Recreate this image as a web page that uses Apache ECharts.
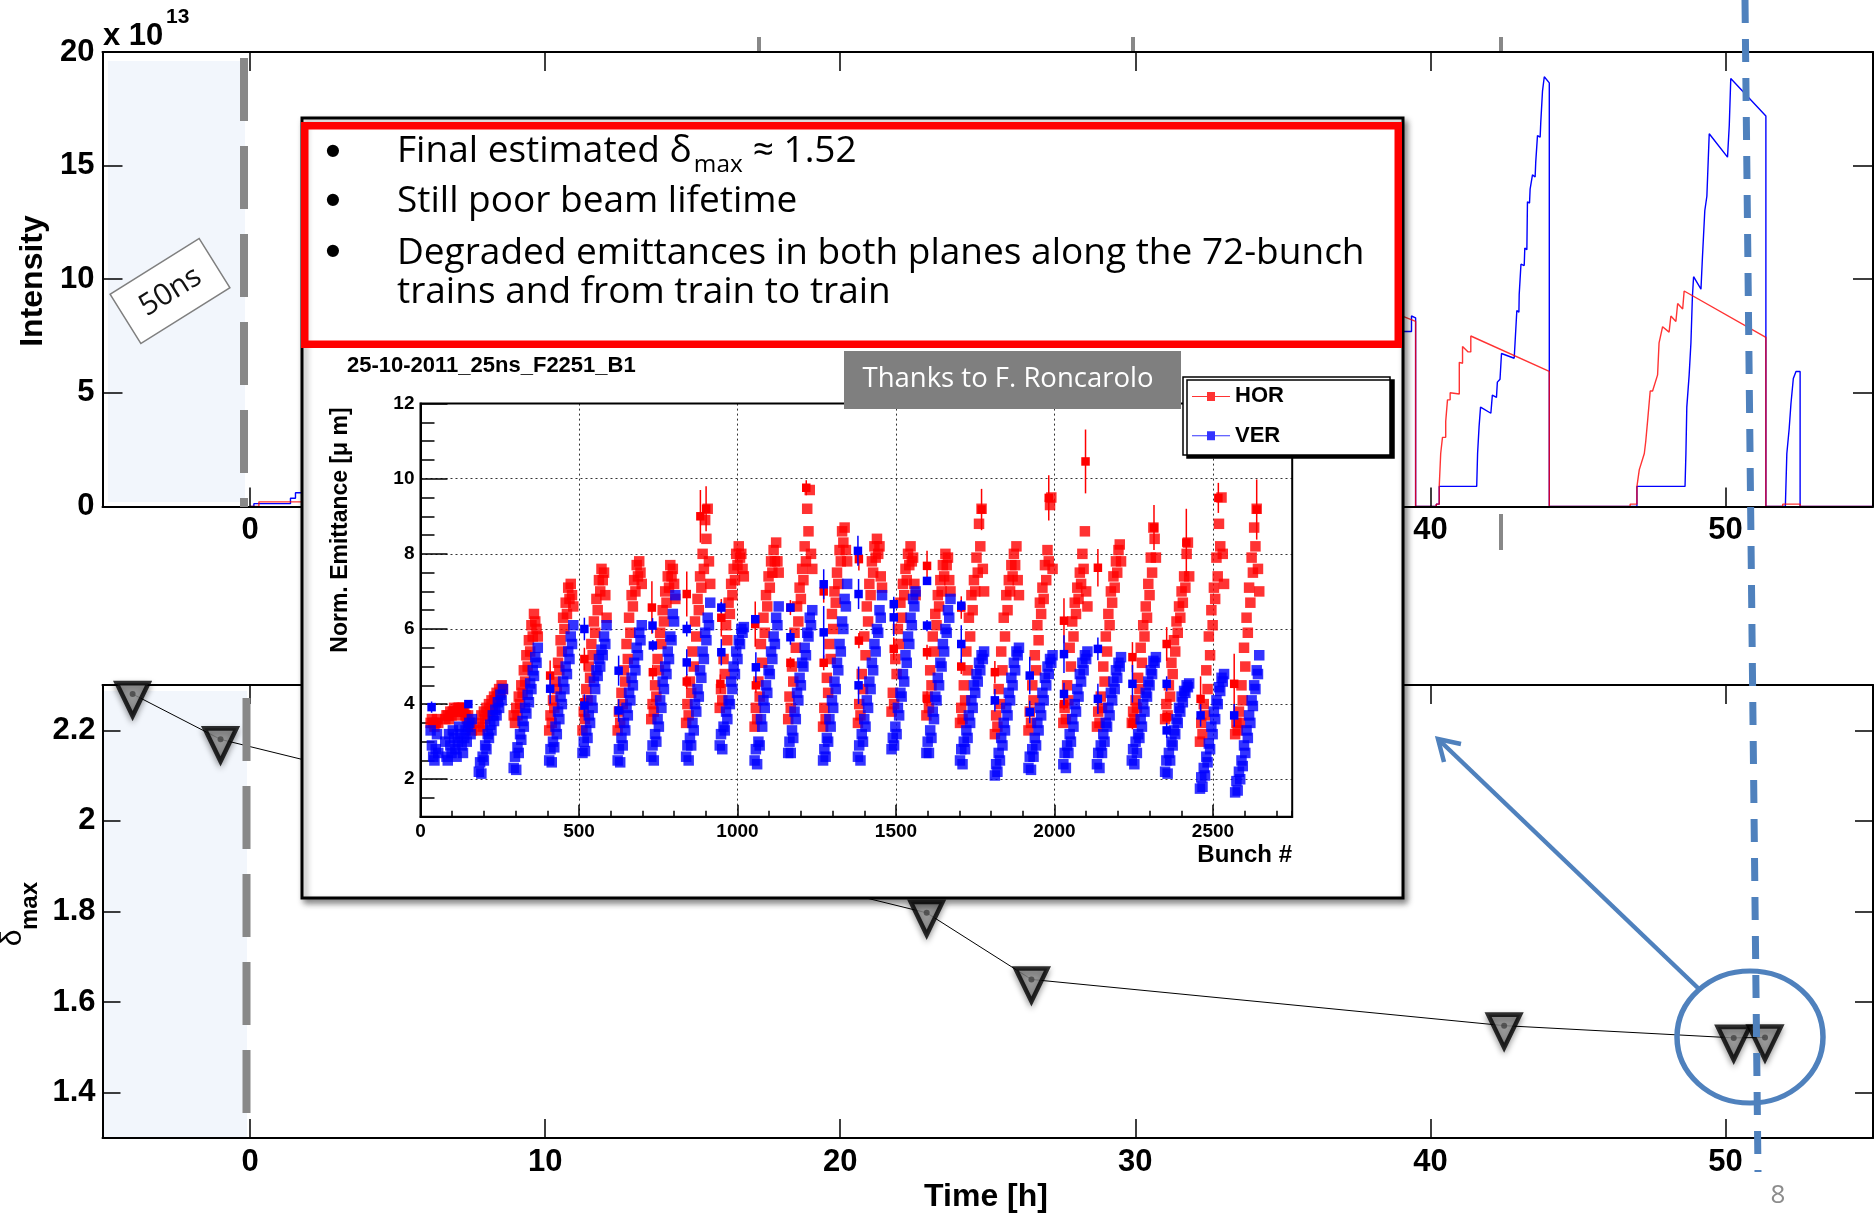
<!DOCTYPE html>
<html>
<head>
<meta charset="utf-8">
<script src="https://cdn.jsdelivr.net/npm/echarts@6/dist/echarts.min.js"></script>
<style>
  html, body { margin: 0; padding: 0; background: #fff; }
  #chart { width: 1874px; height: 1218px; }
</style>
</head>
<body>
<div id="chart"></div>
<script>
// ---------------------------------------------------------------------------
// Data
// ---------------------------------------------------------------------------

// Beam intensity versus time [h], in units of 1e13 protons (step-wise fills)
const verIntensity = [
  [0, 0], [0.13, 0], [0.13, 0.12], [1.37, 0.12], [1.37, 0.36], [1.54, 0.36], [1.54, 0.6], [2.3, 0.6],
  [38.9, 7.7], [39.36, 7.7], [39.36, 8.38], [39.5, 8.3], [39.5, 0],
  [40.2, 0], [40.2, 0.1], [40.3, 0.1], [40.3, 0.88], [41.57, 0.88], [41.6, 2.33], [41.65, 3.5], [41.7, 4.37],
  [42.05, 4.1], [42.1, 4.9], [42.24, 4.8], [42.27, 5.47], [42.36, 5.6], [42.41, 6.73], [42.84, 6.52],
  [42.87, 7.2], [42.93, 8.62], [43.0, 8.55], [43.01, 9.32], [43.06, 9.28], [43.07, 10.66], [43.18, 10.6],
  [43.2, 11.37], [43.27, 11.3], [43.29, 13.41], [43.36, 13.35], [43.38, 13.96], [43.44, 13.9], [43.46, 14.59],
  [43.55, 14.5], [43.57, 15.14], [43.61, 15.1], [43.63, 16.32], [43.72, 16.25], [43.74, 16.87], [43.78, 16.85],
  [43.8, 18.28], [43.84, 18.25], [43.86, 18.91], [44.03, 18.64], [44.03, 0],
  [47.0, 0], [47.0, 0.88], [48.63, 0.88], [48.66, 2.33], [48.69, 4.37], [48.77, 5.79], [48.83, 7.2],
  [48.88, 9.24], [48.92, 10.11], [49.17, 9.56], [49.22, 10.97], [49.3, 13.02], [49.37, 13.65], [49.45, 16.4],
  [50.07, 15.37], [50.13, 16.79], [50.18, 18.83], [51.37, 17.18], [51.37, 0],
  [52.03, 0], [52.08, 2.33], [52.16, 3.43], [52.22, 4.53], [52.3, 5.63], [52.39, 5.94], [52.53, 5.94],
  [52.53, 0], [55, 0]
];
const horIntensity = [
  [0, 0], [0.3, 0], [0.3, 0.2], [2.3, 0.2],
  [38.9, 8.45], [39.5, 8.14], [39.5, 0],
  [40.2, 0], [40.2, 0.1], [40.3, 0.1], [40.3, 0.88], [40.35, 0.88], [40.35, 2.33], [40.41, 2.33], [40.41, 3.04],
  [40.52, 3.04], [40.52, 3.74], [40.58, 3.74], [40.58, 4.69], [40.67, 4.69], [40.67, 5.0], [40.98, 4.95],
  [40.98, 6.34], [41.09, 6.3], [41.09, 7.04], [41.28, 6.8], [41.37, 6.8], [41.37, 7.5], [44.03, 5.94], [44.03, 0],
  [46.77, 0], [46.77, 0.1], [47.0, 0.1], [47.0, 0.88], [47.08, 1.62], [47.25, 2.33], [47.3, 2.88], [47.36, 3.74],
  [47.45, 5.08], [47.53, 5.08], [47.7, 5.79], [47.75, 7.2], [47.87, 7.91], [48.09, 7.67], [48.15, 8.38],
  [48.32, 8.14], [48.38, 8.93], [48.55, 8.69], [48.6, 9.48], [51.37, 7.44], [51.37, 0],
  [51.94, 0], [51.94, 0.1], [52.53, 0.1], [52.53, 0], [55, 0]
];

// δmax estimates versus time [h]
const deltaTime  = [-3.98, -1.0, 22.93, 26.48, 42.5, 50.28, 51.34];
const deltaValue = [2.28, 2.18, 1.797, 1.65, 1.548, 1.521, 1.522];

// Tick values
const timeTicks  = [0, 10, 20, 30, 40, 50];
const deltaTicks = [1.4, 1.6, 1.8, 2.0, 2.2];
const emitTicks  = [2, 4, 6, 8, 10, 12];
const emitGrid   = [2, 4, 6, 8, 10];

// Normalised emittance per bunch (fill 2251, beam 1): first slot of each train,
// then the values of every BUNCH_STEP-th bunch along the train
const BUNCH_STEP = 4;
const trainStarts = [32, 78, 184, 294, 406, 511, 622, 728, 838, 944, 1054, 1160, 1270,
                     1380, 1486, 1596, 1702, 1812, 1918, 2028, 2134, 2244, 2349, 2459, 2570];
const horTrains = [
  [3.5, 3.6, 3.5, 3.4, 3.5, 3.6, 3.5],
  [3.6, 3.7, 3.7, 3.6, 3.8, 3.7, 3.8, 3.9, 3.8, 3.7, 3.9, 3.9, 3.8, 3.9, 3.9, 3.8, 3.7, 3.6, 3.7, 3.5, 3.4, 3.3],
  [3.5, 3.3, 3.7, 3.4, 3.8, 3.6, 3.9, 3.7, 4.0, 3.8, 4.1, 3.9, 4.2, 4.1, 4.3, 4.2, 4.4, 4.3, 4.5, 4.4],
  [3.7, 3.5, 3.9, 3.7, 4.2, 4.0, 4.5, 4.3, 4.9, 4.6, 5.3, 5.0, 5.7, 5.4, 6.1, 5.8, 6.4, 6.2, 6.0, 5.8],
  [3.3, 3.7, 3.5, 4.1, 3.9, 4.6, 4.4, 5.1, 4.9, 5.7, 5.4, 6.3, 6.0, 6.7, 6.4, 7.1, 6.8, 7.2, 6.9, 6.6],
  [3.3, 3.8, 3.6, 4.4, 4.1, 5.0, 4.7, 5.6, 5.3, 6.2, 5.9, 6.8, 6.5, 7.3, 7.0, 7.6, 7.3, 7.5, 6.9, 6.3],
  [3.3, 3.8, 3.5, 4.3, 4.0, 4.9, 4.6, 5.6, 5.2, 6.3, 5.9, 6.9, 6.6, 7.3, 7.0, 7.7, 7.4, 7.8, 7.5, 7.2],
  [3.6, 4.0, 3.8, 4.5, 4.2, 5.2, 4.9, 5.9, 5.6, 6.5, 6.2, 7.0, 6.7, 7.4, 7.1, 7.7, 7.4, 7.6, 7.2, 6.8],
  [3.5, 4.0, 3.7, 4.6, 4.3, 5.4, 5.0, 6.2, 5.8, 6.8, 6.5, 7.4, 7.1, 8.0, 7.6, 8.9, 8.4, 9.2, 7.8, 7.2],
  [3.9, 4.4, 4.1, 5.2, 4.8, 6.1, 5.7, 6.7, 6.4, 7.2, 6.9, 7.6, 7.3, 8.0, 7.7, 8.2, 7.9, 8.0, 7.6, 7.4],
  [3.4, 3.9, 3.6, 4.6, 4.2, 5.6, 5.1, 6.3, 5.9, 6.9, 6.6, 7.4, 7.1, 7.8, 7.5, 8.1, 7.8, 8.3, 7.8, 7.5],
  [3.6, 4.2, 3.9, 5.0, 4.6, 5.9, 5.5, 6.6, 6.2, 7.1, 6.8, 7.6, 7.3, 8.2, 7.8, 9.2, 8.6, 9.7, 8.0, 7.6],
  [3.4, 3.9, 3.6, 4.7, 4.3, 5.6, 5.2, 6.4, 6.0, 7.0, 6.7, 7.5, 7.2, 8.1, 7.8, 8.6, 8.3, 8.7, 8.1, 7.8],
  [3.5, 4.0, 3.7, 4.8, 4.4, 5.8, 5.3, 6.6, 6.2, 7.2, 6.9, 7.8, 7.5, 8.2, 7.9, 8.4, 8.0, 8.2, 7.4, 7.1],
  [3.8, 4.3, 4.0, 5.2, 4.8, 6.0, 5.6, 6.7, 6.3, 7.2, 6.9, 7.6, 7.3, 8.0, 7.7, 8.2, 7.8, 7.9, 7.2, 6.9],
  [3.7, 4.2, 3.9, 4.9, 4.5, 5.8, 5.4, 6.4, 6.1, 6.9, 6.6, 7.3, 7.0, 7.7, 7.4, 8.0, 7.7, 7.9, 7.3, 7.0],
  [3.5, 3.9, 3.6, 4.5, 4.1, 5.4, 4.9, 6.3, 5.8, 6.9, 6.5, 7.3, 7.0, 7.9, 7.5, 8.8, 8.2, 9.2, 7.6, 7.0],
  [3.2, 3.7, 3.4, 4.4, 4.0, 5.4, 4.9, 6.3, 5.8, 6.9, 6.5, 7.3, 7.0, 7.7, 7.4, 8.0, 7.7, 8.2, 7.3, 6.9],
  [3.3, 3.8, 3.5, 4.5, 4.1, 5.3, 4.9, 6.1, 5.7, 6.7, 6.4, 7.1, 6.8, 7.7, 7.3, 8.1, 7.8, 9.3, 9.5, 7.6],
  [3.5, 3.9, 3.6, 4.5, 4.1, 5.5, 5.0, 6.2, 5.8, 6.7, 6.4, 7.1, 6.8, 7.5, 7.2, 8.0, 7.6, 8.6, 7.0, 6.6],
  [3.4, 3.8, 3.5, 4.2, 3.9, 5.0, 4.6, 5.8, 5.4, 6.4, 6.1, 7.0, 6.7, 7.4, 7.1, 7.8, 7.5, 8.1, 8.25, 7.8],
  [3.5, 3.8, 3.6, 4.1, 3.9, 4.7, 4.4, 5.5, 5.1, 6.1, 5.8, 6.6, 6.3, 7.2, 6.9, 7.9, 7.5, 8.7, 8.4, 7.9],
  [3.6, 4.0, 3.7, 4.5, 4.2, 5.1, 4.8, 5.7, 5.4, 6.2, 5.9, 6.6, 6.3, 7.0, 6.7, 7.4, 7.1, 8.0, 8.3, 7.4],
  [3.0, 3.5, 3.2, 4.0, 3.7, 4.9, 4.4, 5.8, 5.3, 6.5, 6.1, 7.1, 6.8, 7.9, 7.4, 8.8, 8.2, 9.5, 8.0, 7.2],
  [3.2, 3.5, 3.3, 3.8, 3.5, 4.5, 4.1, 5.5, 5.0, 6.3, 5.9, 7.1, 6.7, 7.9, 7.5, 8.7, 8.2, 9.2, 7.6, 7.0]
];
const verTrains = [
  [3.3, 2.9, 2.6, 2.5, 2.8, 3.2, 2.7],
  [3.0, 2.6, 2.5, 3.2, 2.9, 2.7, 3.3, 3.1, 2.8, 2.6, 3.0, 3.4, 3.2, 2.9, 2.7, 3.1, 3.3, 3.0, 3.4, 3.5, 3.2, 3.6],
  [2.2, 2.45, 2.15, 2.6, 2.5, 2.9, 2.8, 3.2, 3.1, 3.45, 3.3, 3.7, 3.55, 3.85, 3.7, 4.05, 3.9, 4.25, 4.1, 4.4],
  [2.3, 2.6, 2.25, 2.85, 2.7, 3.2, 3.05, 3.55, 3.4, 3.9, 3.75, 4.25, 4.05, 4.55, 4.4, 4.9, 4.75, 5.25, 5.1, 5.5],
  [2.5, 2.8, 2.45, 3.0, 2.85, 3.4, 3.2, 3.8, 3.6, 4.2, 4.0, 4.6, 4.4, 5.0, 4.8, 5.4, 5.2, 5.8, 5.6, 6.1],
  [2.7, 3.0, 2.75, 3.3, 3.1, 3.7, 3.5, 4.1, 3.9, 4.6, 4.4, 4.9, 4.75, 5.2, 5.0, 5.45, 5.3, 5.8, 5.6, 6.1],
  [2.5, 2.8, 2.45, 3.1, 2.9, 3.5, 3.3, 3.9, 3.7, 4.3, 4.1, 4.7, 4.5, 5.1, 4.9, 5.5, 5.3, 5.9, 5.7, 6.1],
  [2.6, 2.9, 2.5, 3.2, 3.0, 3.6, 3.4, 4.1, 3.9, 4.6, 4.4, 5.0, 4.8, 5.4, 5.2, 5.8, 5.7, 6.4, 6.2, 6.9],
  [2.6, 2.9, 2.5, 3.1, 2.9, 3.5, 3.3, 4.0, 3.8, 4.4, 4.2, 4.9, 4.7, 5.4, 5.2, 5.9, 5.7, 6.3, 6.1, 6.7],
  [2.9, 3.2, 2.8, 3.4, 3.3, 3.8, 3.6, 4.1, 4.0, 4.6, 4.4, 5.0, 4.8, 5.4, 5.2, 5.7, 5.6, 6.0, 5.9, 6.05],
  [2.5, 2.8, 2.4, 3.0, 2.9, 3.6, 3.4, 4.1, 3.9, 4.5, 4.3, 4.9, 4.8, 5.4, 5.2, 5.8, 5.6, 6.3, 6.1, 6.6],
  [2.7, 3.0, 2.7, 3.3, 3.1, 3.8, 3.6, 4.3, 4.1, 4.7, 4.5, 5.1, 5.0, 5.5, 5.3, 5.9, 5.8, 6.3, 6.1, 6.5],
  [2.5, 2.8, 2.6, 3.1, 3.0, 3.6, 3.4, 4.1, 3.9, 4.6, 4.4, 5.1, 4.9, 5.6, 5.4, 6.2, 6.0, 6.8, 6.6, 7.2],
  [2.6, 2.9, 2.5, 3.2, 3.0, 3.6, 3.4, 4.1, 3.9, 4.6, 4.4, 5.1, 4.9, 5.6, 5.4, 6.0, 5.9, 6.5, 6.3, 6.9],
  [2.8, 3.1, 2.9, 3.4, 3.2, 3.9, 3.7, 4.3, 4.2, 4.8, 4.6, 5.3, 5.1, 5.8, 5.6, 6.3, 6.1, 6.8, 6.6, 7.0],
  [2.7, 3.0, 2.7, 3.3, 3.1, 3.8, 3.6, 4.2, 4.1, 4.7, 4.5, 5.1, 5.0, 5.6, 5.4, 6.0, 5.9, 6.5, 6.3, 6.8],
  [2.5, 2.8, 2.4, 3.0, 2.8, 3.3, 3.1, 3.7, 3.5, 4.1, 3.9, 4.5, 4.3, 4.8, 4.6, 5.1, 4.9, 5.3, 5.2, 5.4],
  [2.1, 2.4, 2.2, 2.7, 2.5, 3.1, 2.9, 3.5, 3.3, 3.9, 3.7, 4.3, 4.1, 4.7, 4.5, 5.1, 4.9, 5.4, 5.3, 5.5],
  [2.3, 2.6, 2.25, 2.8, 2.6, 3.1, 2.9, 3.5, 3.3, 3.9, 3.7, 4.3, 4.1, 4.7, 4.5, 5.0, 4.8, 5.2, 5.1, 5.3],
  [2.4, 2.7, 2.3, 2.9, 2.7, 3.2, 3.0, 3.6, 3.4, 4.0, 3.8, 4.4, 4.2, 4.8, 4.6, 5.1, 4.9, 5.3, 5.2, 5.4],
  [2.4, 2.7, 2.3, 2.9, 2.7, 3.2, 3.0, 3.5, 3.4, 3.9, 3.7, 4.3, 4.1, 4.6, 4.4, 4.9, 4.7, 5.1, 5.0, 5.25],
  [2.5, 2.8, 2.4, 3.0, 2.7, 3.2, 3.1, 3.6, 3.4, 4.0, 3.8, 4.3, 4.2, 4.6, 4.5, 4.9, 4.8, 5.15, 5.1, 5.25],
  [2.2, 2.5, 2.15, 2.7, 2.5, 3.0, 2.9, 3.3, 3.2, 3.6, 3.5, 3.9, 3.8, 4.2, 4.05, 4.35, 4.3, 4.5, 4.45, 4.55],
  [1.75, 2.05, 1.8, 2.3, 2.1, 2.6, 2.45, 2.95, 2.8, 3.4, 3.2, 3.8, 3.6, 4.1, 4.0, 4.45, 4.35, 4.7, 4.6, 4.8],
  [1.65, 1.95, 1.7, 2.2, 2.0, 2.5, 2.35, 2.9, 2.7, 3.3, 3.1, 3.7, 3.5, 4.1, 3.95, 4.5, 4.4, 4.9, 4.8, 5.3]
];
// Isolated bunches with visible error bars: [bunch, emittance, error]
const horSingles = [
  [409, 4.76, 0.4], [517, 5.2, 0.3], [517, 4.05, 0.15], [730, 6.57, 0.7], [733, 4.85, 0.2],
  [840, 6.93, 0.6], [840, 4.6, 0.2], [883, 9.0, 0.7], [901, 9.2, 0.6], [946, 4.54, 0.25],
  [949, 6.3, 0.5], [1056, 6.13, 0.6], [1058, 4.5, 0.2], [1167, 6.57, 0.2], [1167, 5.1, 0.15],
  [1217, 9.76, 0.2], [1272, 7.0, 0.3], [1272, 5.1, 0.2], [1383, 7.86, 0.3], [1383, 5.69, 0.2],
  [1493, 5.47, 0.3], [1598, 7.68, 0.4], [1598, 5.38, 0.2], [1598, 4.14, 0.2], [1706, 6.57, 0.3],
  [1706, 5.0, 0.2], [1770, 9.18, 0.55], [1812, 4.85, 0.3], [1982, 9.49, 0.6], [2030, 6.22, 0.6],
  [2030, 4.0, 0.15], [2098, 10.46, 0.85], [2137, 7.63, 0.5], [2246, 5.25, 0.4], [2246, 3.48, 0.15],
  [2314, 8.7, 0.6], [2354, 5.6, 0.45], [2354, 3.65, 0.15], [2416, 8.3, 0.9], [2461, 4.14, 0.6],
  [2517, 9.49, 0.4], [2567, 4.54, 0.8], [2638, 9.18, 0.8]
];
const verSingles = [
  [35, 3.92, 0.15], [151, 4.0, 0.1], [409, 4.41, 0.4], [517, 6.0, 0.3], [517, 3.96, 0.3],
  [625, 4.89, 0.4], [625, 3.83, 0.3], [732, 6.09, 0.2], [733, 5.56, 0.15], [840, 6.0, 0.2],
  [840, 5.11, 0.35], [949, 6.57, 0.15], [949, 5.38, 0.35], [1056, 6.26, 0.1], [1058, 4.98, 0.4],
  [1167, 6.57, 0.1], [1167, 5.78, 0.2], [1272, 7.19, 0.4], [1272, 5.91, 0.7], [1380, 8.08, 0.4],
  [1382, 6.93, 0.4], [1382, 4.5, 0.5], [1493, 6.66, 0.2], [1493, 6.31, 0.5], [1598, 7.28, 0.1],
  [1598, 6.09, 0.15], [1706, 6.62, 0.15], [1706, 5.6, 0.5], [1812, 4.1, 0.3], [1922, 4.76, 0.5],
  [1922, 3.79, 0.3], [2030, 5.33, 0.5], [2030, 4.27, 0.3], [2137, 5.47, 0.3], [2137, 4.14, 0.4],
  [2246, 4.54, 0.5], [2354, 4.54, 0.2], [2354, 3.3, 0.2], [2461, 3.7, 0.3], [2567, 3.7, 0.3]
];

// ---------------------------------------------------------------------------
// Styling helpers
// ---------------------------------------------------------------------------
const ROOT_FONT = "'Liberation Sans', Arial, Helvetica, sans-serif";
const SLIDE_FONT = "'Open Sans', 'Noto Sans', sans-serif";
const OFFICE_BLUE = '#4f81bd';
const MARKER = 8.5;        // isolated bunches
const BAND_MARKER = 10.5;  // bunches inside the trains

const measureCtx = document.createElement('canvas').getContext('2d');
function textWidth(text, font) { measureCtx.font = font; return measureCtx.measureText(text).width; }
function fitSize(text, family, weight, width) {
  return 100 * width / textWidth(text, weight + ' 100px ' + family);
}

function trainPoints(trains) {
  const pts = [];
  trains.forEach((vals, t) => vals.forEach((v, i) => pts.push([trainStarts[t] + i * BUNCH_STEP, v])));
  return pts;
}

function errorMarker(color) {
  return function (params, api) {
    const x = api.value(0), y = api.value(1), e = api.value(2);
    const c = api.coord([x, y]);
    const hi = api.coord([x, y + e]);
    const lo = api.coord([x, y - e]);
    const h = MARKER / 2;
    return {
      type: 'group',
      children: [
        { type: 'line', shape: { x1: c[0], y1: hi[1], x2: c[0], y2: lo[1] }, style: { stroke: color, lineWidth: 1.5 } },
        { type: 'rect', shape: { x: c[0] - h, y: c[1] - h, width: MARKER, height: MARKER }, style: { fill: color } }
      ]
    };
  };
}

function txt(text, x, y, font, o) {
  o = o || {};
  const align = o.align || 'center';
  const valign = o.valign || 'middle';
  return {
    type: 'text', x: x, y: y, rotation: o.rotation || 0, z: o.z || 31,
    style: {
      text: text, font: font, fill: o.color || '#000',
      textAlign: align, textVerticalAlign: valign, align: align, verticalAlign: valign
    }
  };
}

const blackLine = { color: '#000', width: 2 };
function timeAxis(grid, pos, labels) {
  return {
    type: 'value', gridIndex: grid, position: pos, min: -5, max: 55,
    axisLine: { show: true, onZero: false, lineStyle: blackLine },
    axisTick: { show: true, inside: true, length: 19, customValues: timeTicks, lineStyle: { color: '#000', width: 1.5 } },
    axisLabel: { show: labels, customValues: timeTicks, margin: 9, fontFamily: ROOT_FONT, fontWeight: 'bold', fontSize: 31, color: '#000' },
    splitLine: { show: false }, z: 3
  };
}
function intensityAxis(pos, labels) {
  return {
    type: 'value', gridIndex: 0, position: pos, min: 0, max: 20, interval: 5,
    axisLine: { show: true, onZero: false, lineStyle: blackLine },
    axisTick: { show: true, inside: true, length: 20, lineStyle: { color: '#000', width: 1.5 } },
    axisLabel: { show: labels, margin: 8, fontFamily: ROOT_FONT, fontWeight: 'bold', fontSize: 31, color: '#000' },
    splitLine: { show: false }, z: 3
  };
}
function deltaAxis(pos, labels) {
  return {
    type: 'value', gridIndex: 1, position: pos, min: 1.3, max: 2.3,
    axisLine: { show: true, onZero: false, lineStyle: blackLine },
    axisTick: { show: true, inside: true, length: 18, customValues: deltaTicks, lineStyle: { color: '#000', width: 1.5 } },
    axisLabel: { show: labels, customValues: deltaTicks, margin: 7, fontFamily: ROOT_FONT, fontWeight: 'bold', fontSize: 31, color: '#000' },
    splitLine: { show: false }, z: 3
  };
}
const insetLabel = { fontFamily: ROOT_FONT, fontWeight: 'bold', fontSize: 19, color: '#000' };
const dotted = { type: [2, 3], color: '#333', width: 1 };

// Legend icon: line sample with a square marker
const LEGEND_ICON = 'path://M0,4 L15,4 L15,0 L23,0 L23,4 L38,4 L38,5 L23,5 L23,9 L15,9 L15,5 L0,5 Z';
// Down-pointing triangle marker
const TRIANGLE = 'path://M0,0 L30,0 L15,30 Z';

// ---------------------------------------------------------------------------
// Text sizes for the slide annotation box
// ---------------------------------------------------------------------------
const bodySize = fitSize('Degraded emittances in both planes along the 72-bunch', SLIDE_FONT, 'normal', 967);
const bodyFont = 'normal ' + bodySize.toFixed(1) + 'px ' + SLIDE_FONT;
const subFont = 'normal ' + (bodySize * 0.66).toFixed(1) + 'px ' + SLIDE_FONT;
const bulletFont = 'bold ' + (bodySize * 1.15).toFixed(1) + 'px ' + ROOT_FONT;
const line1a = 'Final estimated δ';
const xMax = 397 + textWidth(line1a, bodyFont) + 2;
const xApprox = xMax + textWidth('max', subFont) + 10;
const thanksSize = fitSize('Thanks to F. Roncarolo', SLIDE_FONT, 'normal', 291);

// ---------------------------------------------------------------------------
// Chart
// ---------------------------------------------------------------------------
const chart = echarts.init(document.getElementById('chart'), null, { renderer: 'canvas' });

const option = {
  backgroundColor: '#ffffff',
  animation: false,
  grid: [
    { left: 102.5, top: 52, width: 1770.5, height: 454.4, show: false },
    { left: 102.5, top: 685, width: 1770.5, height: 453, show: false },
    { left: 420.5, top: 403.6, width: 871.7, height: 413.2, show: true, borderColor: '#000', borderWidth: 2, backgroundColor: 'transparent', z: 24 }
  ],
  xAxis: [
    timeAxis(0, 'bottom', true),
    timeAxis(0, 'top', false),
    timeAxis(1, 'bottom', true),
    timeAxis(1, 'top', false),
    {
      type: 'value', gridIndex: 2, position: 'bottom', min: 0, max: 2750, interval: 500,
      axisLine: { show: true, onZero: false, lineStyle: blackLine },
      axisTick: { show: true, inside: true, length: 12, lineStyle: { color: '#000', width: 1.5 } },
      axisLabel: Object.assign({ margin: 5, showMaxLabel: false, formatter: v => (v % 500 === 0 ? String(v) : '') }, insetLabel),
      splitLine: { show: true, lineStyle: dotted }, z: 19
    },
    {
      type: 'value', gridIndex: 2, position: 'bottom', min: 0, max: 2750, interval: 100,
      axisLine: { show: false, onZero: false },
      axisTick: { show: true, inside: true, length: 6, lineStyle: { color: '#000', width: 1.5 } },
      axisLabel: { show: false }, splitLine: { show: false }, z: 19
    }
  ],
  yAxis: [
    intensityAxis('left', true),
    intensityAxis('right', false),
    deltaAxis('left', true),
    deltaAxis('right', false),
    {
      type: 'value', gridIndex: 2, position: 'left', min: 1, max: 12,
      axisLine: { show: true, onZero: false, lineStyle: blackLine },
      axisTick: { show: true, inside: true, length: 27, customValues: emitTicks, lineStyle: { color: '#000', width: 1.5 } },
      axisLabel: Object.assign({ customValues: emitTicks, margin: 6 }, insetLabel),
      splitLine: { show: false }, z: 19
    },
    {
      type: 'value', gridIndex: 2, position: 'left', min: 1, max: 12, interval: 0.5,
      axisLine: { show: false, onZero: false },
      axisTick: { show: true, inside: true, length: 14, lineStyle: { color: '#000', width: 1.5 } },
      axisLabel: { show: false }, splitLine: { show: false }, z: 19
    }
  ],
  legend: {
    data: [{ name: 'HOR', icon: LEGEND_ICON }, { name: 'VER', icon: LEGEND_ICON }],
    orient: 'vertical', left: 1192, top: 385.4, padding: 0,
    itemWidth: 38, itemHeight: 9, itemGap: 17.3, selectedMode: false, z: 40,
    textStyle: { fontFamily: ROOT_FONT, fontWeight: 'bold', fontSize: 22, lineHeight: 22, color: '#000' }
  },
  series: [
    // Intensity
    {
      name: 'VER intensity', type: 'line', xAxisIndex: 0, yAxisIndex: 0, data: verIntensity,
      symbol: 'none', lineStyle: { color: '#0000ff', width: 1.4 }, itemStyle: { color: '#0000ff' }, z: 2
    },
    {
      name: 'HOR intensity', type: 'line', xAxisIndex: 0, yAxisIndex: 0, data: horIntensity,
      symbol: 'none', lineStyle: { color: '#ff0000', width: 1.4, opacity: 0.8 }, itemStyle: { color: '#ff0000' }, z: 2
    },
    // δmax
    {
      name: 'δmax trend', type: 'line', xAxisIndex: 2, yAxisIndex: 2,
      data: deltaTime.map((t, i) => [t, deltaValue[i]]),
      symbol: 'none', lineStyle: { color: '#000', width: 1 }, z: 2
    },
    {
      name: 'δmax', type: 'scatter', xAxisIndex: 2, yAxisIndex: 2,
      data: deltaTime.map((t, i) => [t, deltaValue[i]]),
      symbol: TRIANGLE, symbolSize: [32, 33], symbolOffset: [0, 5.5],
      itemStyle: { color: '#939393', borderColor: '#000', borderWidth: 4.5, shadowBlur: 6, shadowColor: 'rgba(0,0,0,0.4)', shadowOffsetY: 3 },
      z: 3
    },
    {
      name: 'δmax points', type: 'scatter', xAxisIndex: 2, yAxisIndex: 2,
      data: deltaTime.map((t, i) => [t, deltaValue[i]]),
      symbol: 'circle', symbolSize: 6, itemStyle: { color: '#444' }, z: 4
    },
    // Emittance per bunch (horizontal dotted grid carried by the HOR series)
    {
      name: 'HOR', type: 'scatter', xAxisIndex: 4, yAxisIndex: 4, data: trainPoints(horTrains),
      symbol: 'rect', symbolSize: BAND_MARKER, itemStyle: { color: '#ff0000' }, z: 20,
      markLine: {
        silent: true, symbol: ['none', 'none'], label: { show: false }, z: 19,
        lineStyle: dotted, data: emitGrid.map(v => ({ yAxis: v }))
      }
    },
    {
      name: 'HOR', type: 'custom', xAxisIndex: 4, yAxisIndex: 4, data: horSingles,
      encode: { x: 0, y: 1 }, renderItem: errorMarker('#ff0000'), itemStyle: { color: '#ff0000' }, z: 21
    },
    {
      name: 'VER', type: 'scatter', xAxisIndex: 4, yAxisIndex: 4, data: trainPoints(verTrains),
      symbol: 'rect', symbolSize: BAND_MARKER, itemStyle: { color: '#0000ff' }, z: 22
    },
    {
      name: 'VER', type: 'custom', xAxisIndex: 4, yAxisIndex: 4, data: verSingles,
      encode: { x: 0, y: 1 }, renderItem: errorMarker('#0000ff'), itemStyle: { color: '#0000ff' }, z: 23
    }
  ],
  graphic: {
    elements: [
      // shaded band before t = 0 in both panels
      { type: 'rect', z: 1, shape: { x: 108, y: 61, width: 137, height: 441 }, style: { fill: '#f2f6fc' } },
      { type: 'rect', z: 1, shape: { x: 104, y: 691, width: 143, height: 447 }, style: { fill: '#f2f6fc' } },
      // grey dashed separators at t = 0
      { type: 'line', z: 5, shape: { x1: 244, y1: 58, x2: 244, y2: 507 }, style: { stroke: '#888', lineWidth: 8, lineDash: [63, 25] } },
      { type: 'line', z: 5, shape: { x1: 246.5, y1: 698, x2: 246.5, y2: 1114 }, style: { stroke: '#888', lineWidth: 8, lineDash: [63, 25] } },
      // grey guide marks
      { type: 'line', z: 5, shape: { x1: 759, y1: 37, x2: 759, y2: 51 }, style: { stroke: '#888', lineWidth: 4 } },
      { type: 'line', z: 5, shape: { x1: 1133, y1: 37, x2: 1133, y2: 51 }, style: { stroke: '#888', lineWidth: 4 } },
      { type: 'line', z: 5, shape: { x1: 1501, y1: 37, x2: 1501, y2: 51 }, style: { stroke: '#888', lineWidth: 4 } },
      { type: 'line', z: 5, shape: { x1: 1501, y1: 514, x2: 1501, y2: 550 }, style: { stroke: '#888', lineWidth: 4 } },
      // 50ns tag
      {
        type: 'group', x: 170, y: 291, rotation: 0.5585, z: 6,
        children: [
          { type: 'rect', z: 6, shape: { x: -52.5, y: -29, width: 105, height: 58 }, style: { fill: '#fff', stroke: '#7f7f7f', lineWidth: 1.5 } },
          { type: 'text', z: 7, x: 0, y: 1, style: { text: '50ns', font: 'normal 30px ' + SLIDE_FONT, fill: '#111', textAlign: 'center', textVerticalAlign: 'middle', align: 'center', verticalAlign: 'middle' } }
        ]
      },
      // main axis titles
      txt('Intensity', 33, 281, 'bold 32px ' + ROOT_FONT, { rotation: Math.PI / 2 }),
      txt('x 10', 103, 36, 'bold 31px ' + ROOT_FONT, { align: 'left' }),
      txt('13', 166, 17, 'bold 21px ' + ROOT_FONT, { align: 'left' }),
      txt('δ', 13, 938, 'normal 30px ' + ROOT_FONT, { rotation: Math.PI / 2 }),
      txt('max', 30, 906, 'bold 24px ' + ROOT_FONT, { rotation: Math.PI / 2 }),
      txt('Time [h]', 986, 1197, 'bold 32px ' + ROOT_FONT),
      // emittance panel
      {
        type: 'rect', z: 10, shape: { x: 302, y: 118, width: 1101, height: 780 },
        style: { fill: '#fff', stroke: '#000', lineWidth: 3, shadowBlur: 6, shadowOffsetX: 3, shadowOffsetY: 4, shadowColor: 'rgba(0,0,0,0.45)' }
      },
      txt('25-10-2011_25ns_F2251_B1', 347, 366, 'bold 22px ' + ROOT_FONT, { align: 'left' }),
      txt('Norm. Emittance [μ m]', 341, 530, 'bold 23px ' + ROOT_FONT, { rotation: Math.PI / 2 }),
      txt('Bunch #', 1292, 855, 'bold 24px ' + ROOT_FONT, { align: 'right' }),
      // legend frame
      {
        type: 'rect', z: 29, shape: { x: 1183, y: 377, width: 207, height: 78 },
        style: { fill: '#fff', stroke: '#000', lineWidth: 1.5, shadowBlur: 0, shadowOffsetX: 4, shadowOffsetY: 3, shadowColor: '#000' }
      },
      // credit box
      { type: 'rect', z: 30, shape: { x: 844, y: 351, width: 337, height: 58 }, style: { fill: '#7f7f7f' } },
      txt('Thanks to F. Roncarolo', 1008, 379, 'normal ' + thanksSize.toFixed(1) + 'px ' + SLIDE_FONT, { color: '#fff' }),
      // summary box
      { type: 'rect', z: 30, shape: { x: 304.75, y: 125.75, width: 1093.5, height: 218.5 }, style: { fill: 'none', stroke: '#ff0000', lineWidth: 7.5 } },
      txt('•', 333, 153, bulletFont),
      txt('•', 333, 202, bulletFont),
      txt('•', 333, 253, bulletFont),
      txt(line1a, 397, 151, bodyFont, { align: 'left' }),
      txt('max', xMax, 165, subFont, { align: 'left' }),
      txt('≈ 1.52', xApprox, 151, bodyFont, { align: 'left' }),
      txt('Still poor beam lifetime', 397, 201, bodyFont, { align: 'left' }),
      txt('Degraded emittances in both planes along the 72-bunch', 397, 253, bodyFont, { align: 'left' }),
      txt('trains and from train to train', 397, 292, bodyFont, { align: 'left' }),
      // highlight of the final δmax values
      { type: 'line', z: 50, shape: { x1: 1745, y1: 0, x2: 1758, y2: 1172 }, style: { stroke: OFFICE_BLUE, lineWidth: 7, lineDash: [23, 16] } },
      { type: 'circle', z: 50, x: 1750, y: 1037, scaleY: 66 / 73, shape: { cx: 0, cy: 0, r: 73 }, style: { fill: 'none', stroke: OFFICE_BLUE, lineWidth: 5.5 } },
      { type: 'line', z: 50, shape: { x1: 1699, y1: 989, x2: 1438, y2: 739 }, style: { stroke: OFFICE_BLUE, lineWidth: 4.5 } },
      { type: 'polyline', z: 50, shape: { points: [[1461, 744], [1438, 739], [1444, 762]] }, style: { fill: 'none', stroke: OFFICE_BLUE, lineWidth: 4.5 } },
      // slide number
      txt('8', 1778, 1196, 'normal 26px ' + SLIDE_FONT, { color: '#8c8c8c' })
    ]
  }
};

chart.setOption(option);
</script>
</body>
</html>
